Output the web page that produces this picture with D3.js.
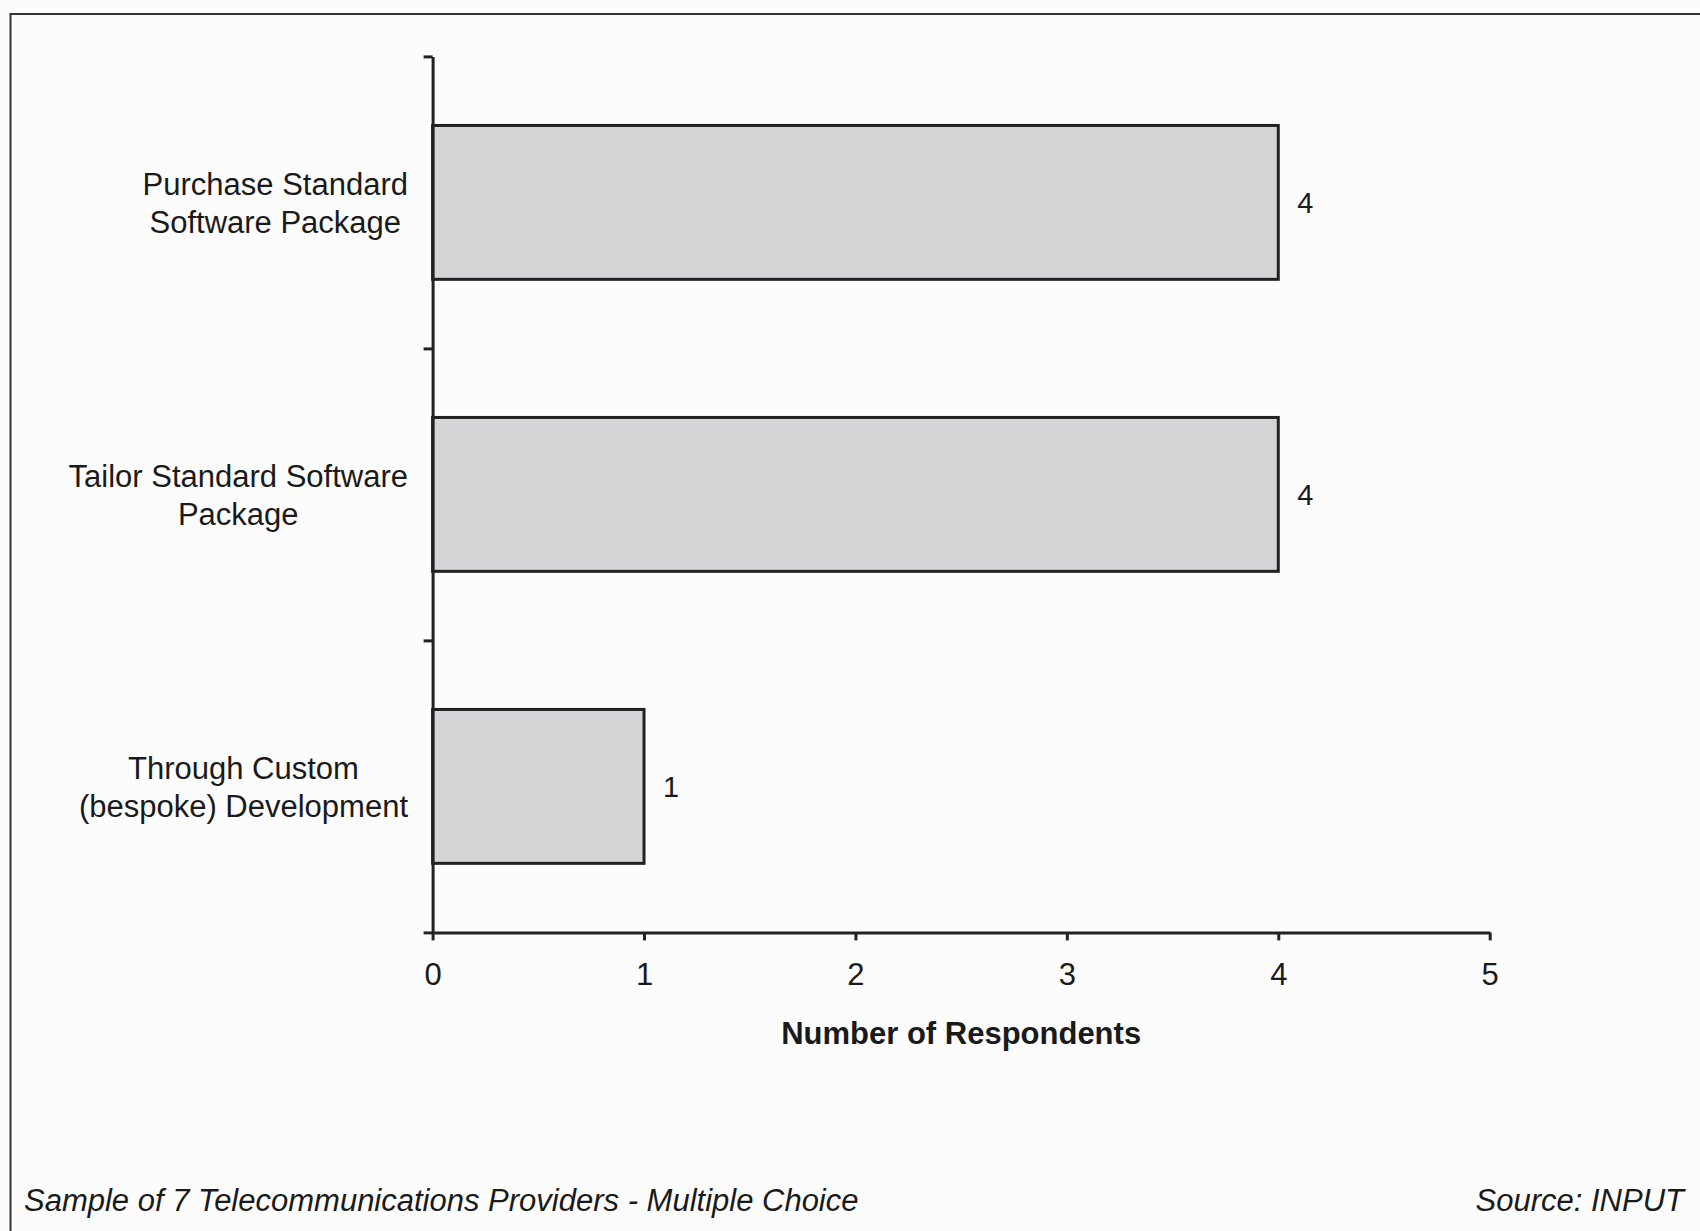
<!DOCTYPE html>
<html>
<head>
<meta charset="utf-8">
<script src="https://cdn.jsdelivr.net/npm/d3@7"></script>
<style>
  html, body { margin: 0; padding: 0; background: #fcfcfc; }
  svg { display: block; }
  text { font-family: "Liberation Sans", Arial, sans-serif; fill: #1a1a1a; }
</style>
</head>
<body>
<svg id="chart" width="1700" height="1231"></svg>
<script>
// ---- data ----
const categories = [
  "Purchase Standard\nSoftware Package",
  "Tailor Standard Software\nPackage",
  "Through Custom\n(bespoke) Development"
];
const values = [4, 4, 1];
const xTicks = [0, 1, 2, 3, 4, 5];
const xTitle = "Number of Respondents";
const footnote = "Sample of 7 Telecommunications Providers - Multiple Choice";
const source = "Source: INPUT";

// ---- layout ----
const W = 1700, H = 1231;
const plot = { left: 432.6, right: 1489.7, top: 56.4, bottom: 932.4 };

const svg = d3.select("#chart");

svg.append("rect").attr("x", 0).attr("y", 0).attr("width", W).attr("height", H).attr("fill", "#fcfcfc");

// frame (top and left border)
svg.append("path")
  .attr("d", `M10.5,${H} L10.5,14 L${W},14`)
  .attr("fill", "none").attr("stroke", "#333").attr("stroke-width", 2);

const x = d3.scaleLinear().domain([0, 5]).range([plot.left, plot.right]);
const y = d3.scaleBand().domain(categories).range([plot.top, plot.bottom])
  .paddingInner(0.473).paddingOuter(0.2365);

// bars
svg.append("g").selectAll("rect").data(values).join("rect")
  .attr("x", x(0))
  .attr("y", (d, i) => y(categories[i]))
  .attr("width", d => x(d) - x(0))
  .attr("height", y.bandwidth())
  .attr("fill", "#d5d5d7")
  .attr("stroke", "#222")
  .attr("stroke-width", 3);

// y axis with ticks at category boundaries
const yb = d3.scaleLinear().domain([0, categories.length]).range([plot.top, plot.bottom]);
const yAxis = svg.append("g").attr("transform", `translate(${plot.left},0)`)
  .call(d3.axisLeft(yb).tickValues(d3.range(categories.length + 1)).tickFormat("").tickSize(9).tickSizeOuter(0));
yAxis.select(".domain").attr("stroke", "#222").attr("stroke-width", 3);
yAxis.selectAll(".tick line").attr("stroke", "#222").attr("stroke-width", 3);

// x axis
const xAxis = svg.append("g").attr("transform", `translate(0,${plot.bottom})`)
  .call(d3.axisBottom(x).tickValues(xTicks).tickFormat(d3.format("d")).tickSize(8).tickSizeOuter(0).tickPadding(23));
xAxis.select(".domain").attr("stroke", "#222").attr("stroke-width", 3);
xAxis.selectAll(".tick line").attr("stroke", "#222").attr("stroke-width", 3);
xAxis.selectAll(".tick text")
  .style("font-family", '"Liberation Sans", Arial, sans-serif')
  .attr("font-size", 31).attr("fill", "#1a1a1a");

// category labels: block centred, longest line right-aligned at labelRight
const labelRight = 408;
const lineH = 38;
categories.forEach((c, i) => {
  const lines = c.split("\n");
  const g = svg.append("g");
  const texts = lines.map((ln, j) => g.append("text")
    .attr("font-size", 31)
    .attr("text-anchor", "middle")
    .text(ln));
  const maxW = d3.max(texts, t => t.node().getComputedTextLength());
  const cx = labelRight - maxW / 2;
  const cy = y(c) + y.bandwidth() / 2;
  const n = lines.length;
  texts.forEach((t, j) => {
    t.attr("x", cx).attr("y", cy + (j - (n - 1) / 2) * lineH).attr("dy", "0.36em");
  });
});

// value labels
svg.append("g").selectAll("text").data(values).join("text")
  .attr("x", d => x(d) + 19)
  .attr("y", (d, i) => y(categories[i]) + y.bandwidth() / 2)
  .attr("dy", "0.36em")
  .attr("font-size", 29)
  .text(d => d);

// x axis title
svg.append("text")
  .attr("x", (plot.left + plot.right) / 2)
  .attr("y", 1044)
  .attr("text-anchor", "middle")
  .attr("font-size", 31)
  .attr("font-weight", "bold")
  .text(xTitle);

// footnote & source
svg.append("text")
  .attr("x", 24).attr("y", 1211)
  .attr("font-size", 31).attr("font-style", "italic")
  .text(footnote);
svg.append("text")
  .attr("x", 1684).attr("y", 1211)
  .attr("text-anchor", "end")
  .attr("font-size", 31).attr("font-style", "italic")
  .text(source);
</script>
</body>
</html>
